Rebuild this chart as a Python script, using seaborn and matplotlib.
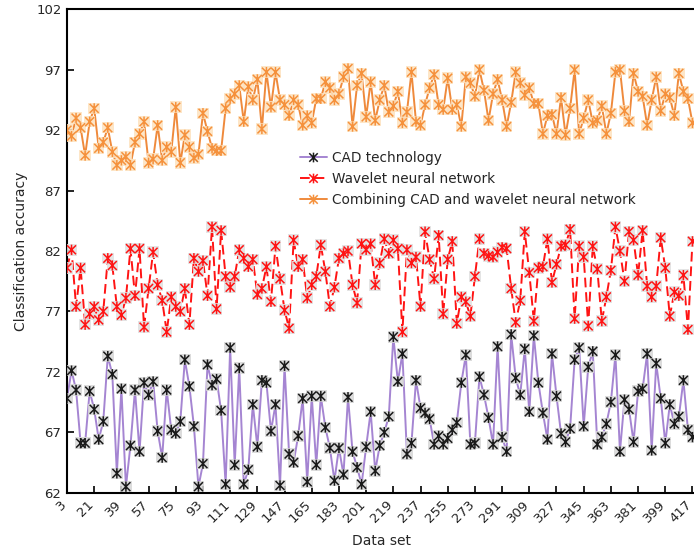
import numpy as np
import matplotlib
matplotlib.use("Agg")
import matplotlib.pyplot as plt
import matplotlib.transforms as mtransforms
from matplotlib.path import Path
from matplotlib.lines import Line2D
import seaborn as sns

# Data set index (every third set) and the labelled ticks
data_set = list(range(3, 420, 3))
tick_labels = list(range(3, 418, 18))

cad = [
    69.8, 72.1, 70.5, 66.1, 66.1, 70.4, 68.9, 66.4, 67.9, 73.3,
    71.8, 63.6, 70.6, 62.5, 65.9, 70.5, 65.4, 71.1, 70.1, 71.2,
    67.1, 64.9, 70.5, 67.2, 66.9, 67.9, 73.0, 70.8, 67.5, 62.5,
    64.4, 72.6, 70.9, 71.4, 68.8, 62.7, 74.0, 64.3, 72.3, 62.7,
    63.9, 69.3, 65.8, 71.3, 71.1, 67.1, 69.3, 62.6, 72.5, 65.2,
    64.5, 66.7, 69.8, 62.9, 70.0, 64.3, 70.0, 67.4, 65.7, 63.0,
    65.7, 63.5, 69.9, 65.4, 64.1, 62.7, 65.8, 68.7, 63.8, 65.9,
    67.0, 68.3, 74.9, 71.2, 73.5, 65.2, 66.1, 71.3, 69.0, 68.6,
    68.1, 66.0, 66.7, 66.0, 66.5, 67.2, 67.8, 71.1, 73.4, 66.0,
    66.1, 71.6, 70.1, 68.2, 66.0, 74.1, 66.6, 65.4, 75.1, 71.5,
    70.1, 73.9, 68.7, 75.0, 71.1, 68.6, 66.4, 73.5, 70.0, 66.9,
    66.2, 67.3, 73.0, 74.0, 67.5, 72.4, 73.7, 66.0, 66.6, 67.7,
    69.5, 73.4, 65.4, 69.7, 68.9, 66.2, 70.4, 70.6, 73.5, 65.5,
    72.7, 69.8, 66.1, 69.3, 67.7, 68.3, 71.3, 67.2, 66.6,
]

wavelet = [
    80.6, 82.1, 77.4, 80.6, 75.9, 76.8, 77.4, 76.3, 77.0, 81.4,
    80.8, 77.4, 76.7, 78.1, 82.2, 78.3, 82.2, 75.7, 78.9, 81.9,
    79.2, 77.9, 75.3, 78.2, 77.4, 77.0, 78.9, 75.9, 81.4, 80.3,
    81.2, 78.3, 84.0, 77.2, 83.7, 79.9, 79.0, 79.9, 82.1, 81.4,
    80.7, 81.3, 78.4, 78.9, 80.7, 77.8, 82.4, 79.7, 77.1, 75.6,
    82.9, 80.7, 81.3, 78.1, 79.2, 79.9, 82.5, 80.3, 77.4, 79.0,
    81.4, 81.8, 82.0, 79.2, 77.7, 82.6, 82.1, 82.6, 79.2, 81.0,
    83.0, 81.8, 82.9, 82.2, 75.3, 82.1, 81.0, 81.5, 77.4, 83.6,
    81.3, 79.7, 83.3, 76.8, 81.3, 82.8, 76.0, 78.2, 77.8, 76.6,
    79.9, 83.0, 81.8, 81.6, 81.5, 81.9, 82.3, 82.2, 78.9, 76.1,
    77.9, 83.6, 80.2, 76.2, 80.6, 80.7, 83.0, 79.4, 80.9, 82.4,
    82.5, 83.8, 76.4, 82.4, 81.5, 75.8, 82.4, 80.5, 76.2, 78.2,
    80.4, 84.0, 82.0, 79.5, 83.6, 82.9, 80.0, 83.7, 79.1, 78.2,
    79.1, 83.1, 80.6, 76.6, 78.6, 78.3, 80.0, 75.5, 82.8,
]

combined = [
    92.0, 91.5, 93.0, 92.2, 89.9, 92.7, 93.8, 90.5, 91.0, 92.2,
    90.2, 89.1, 89.5, 89.8, 89.1, 91.0, 91.7, 92.7, 89.3, 89.6,
    92.4, 89.5, 90.6, 90.2, 93.9, 89.3, 91.6, 90.6, 89.7, 90.0,
    93.4, 91.9, 90.5, 90.3, 90.3, 93.8, 94.6, 95.0, 95.7, 92.7,
    95.6, 94.5, 96.2, 92.1, 96.8, 93.9, 96.8, 94.5, 94.1, 93.2,
    94.5, 94.1, 92.4, 93.2, 92.6, 94.6, 94.6, 96.0, 95.5, 94.5,
    95.0, 96.4, 97.1, 92.3, 95.7, 96.7, 93.1, 96.0, 92.8, 94.5,
    95.7, 93.5, 94.0, 95.2, 92.6, 93.5, 96.8, 92.7, 92.4, 94.1,
    95.5, 96.6, 94.1, 93.7, 96.3, 93.7, 94.1, 92.3, 96.4, 95.9,
    94.8, 97.0, 95.3, 92.8, 95.0, 96.2, 94.5, 92.3, 94.3, 96.8,
    95.9, 94.9, 95.5, 94.2, 94.2, 91.7, 93.2, 93.3, 91.7, 94.7,
    91.6, 93.8, 97.0, 91.7, 93.0, 94.5, 92.6, 92.8, 94.0, 91.7,
    93.4, 96.8, 97.0, 93.6, 92.7, 96.7, 95.2, 94.8, 92.4, 94.5,
    96.4, 93.6, 95.0, 94.7, 93.2, 96.7, 95.2, 94.6, 92.6,
]

series_names = ["CAD technology", "Wavelet neural network",
                "Combining CAD and wavelet neural network"]

sns.set_style("white")
plt.rcParams["font.family"] = ["DejaVu Sans"]

# Asterisk marker: a cross with a vertical bar through it
star = Path(
    [(-1, -1), (1, 1), (-1, 1), (1, -1), (0, -1.15), (0, 1.15)],
    [Path.MOVETO, Path.LINETO, Path.MOVETO, Path.LINETO, Path.MOVETO, Path.LINETO],
)

styles = [
    dict(vals=cad, line="#a585d2", ls="-", mark="#1a1a1a", box="#d6d6d6"),
    dict(vals=wavelet, line="#ff1414", ls=(0, (5, 2.5)), mark="#ff1414", box="#e0e0e0"),
    dict(vals=combined, line="#ef8a3c", ls="-", mark="#f5913c", box="#fde2bf"),
]

fig = plt.figure(figsize=(6.94, 5.57), dpi=100)
ax = fig.add_axes([67 / 694, 64.3 / 557, (697 - 67) / 694, 483.4 / 557])

for st in styles:
    sns.lineplot(x=data_set, y=st["vals"], ax=ax, color=st["line"],
                 linestyle=st["ls"], linewidth=1.4, zorder=2)
    sns.scatterplot(x=data_set, y=st["vals"], ax=ax, marker="s", s=68,
                    color=st["box"], edgecolor="none", alpha=0.85, zorder=3)
    sns.scatterplot(x=data_set, y=st["vals"], ax=ax, marker=star, s=55,
                    facecolor="none", edgecolor=st["mark"], linewidth=1.1,
                    zorder=4)

ax.set_xlim(3, 420)
ax.set_ylim(62, 102)
ax.set_yticks(range(62, 103, 5))
ax.set_xticks(tick_labels)
ax.set_xticklabels([str(t) for t in tick_labels], rotation=45,
                   ha="right", rotation_mode="anchor", fontsize=9.5)
ax.tick_params(axis="y", labelsize=9.5)
ax.tick_params(direction="in", length=5, width=1.2, color="black",
               left=True, bottom=True, pad=4)
for side in ["left", "bottom", "top", "right"]:
    ax.spines[side].set_color("black")
    ax.spines[side].set_linewidth(1.5)

ax.set_xlabel("Data set", fontsize=10, labelpad=6)
ax.set_ylabel("Classification accuracy", fontsize=10, labelpad=6)

handles = [
    Line2D([], [], color=st["line"], linestyle=st["ls"], linewidth=1.4,
           marker=star, markersize=7, markeredgecolor=st["mark"],
           markeredgewidth=1.1)
    for st in styles
]
ax.legend(handles, series_names, loc="upper left",
          bbox_to_anchor=(0.35, 0.732), frameon=False, fontsize=9.8,
          handlelength=2.0, handletextpad=0.4, labelspacing=0.5)

# Nudge the rotated x tick labels a little to the left of their ticks
fig.canvas.draw()
shift = mtransforms.ScaledTranslation(-7 / 100, 0, fig.dpi_scale_trans)
for tick in ax.xaxis.get_major_ticks():
    tick.label1.set_transform(tick.label1.get_transform() + shift)

fig.savefig("out.png", dpi=100)
